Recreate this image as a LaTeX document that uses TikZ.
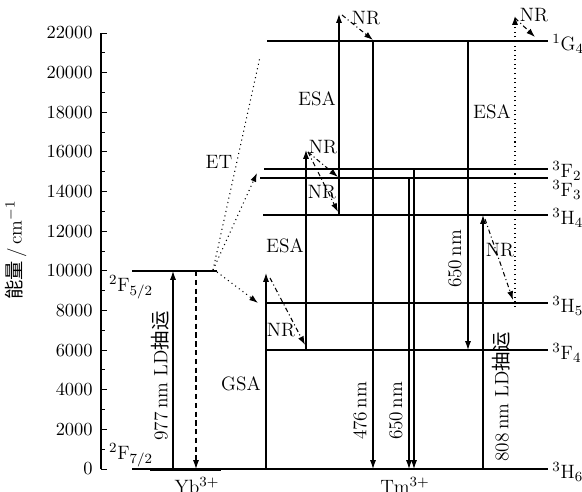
\documentclass[tikz,border=0pt]{standalone}
\usepackage{fontspec}
\newfontfamily\cjk{Noto Sans CJK SC}
\usepackage{tikz}
\usetikzlibrary{arrows.meta,positioning,calc}

\begin{document}
\begin{tikzpicture}[
  x=0.02cm, y=-0.02cm,
  level/.style={line width=0.6pt},
  trans/.style={line width=0.6pt, -{Latex[length=5pt,width=3.4pt]}},
  nr/.style={line width=0.6pt, dash pattern=on 2.6pt off 1.6pt on 0.6pt off 1.6pt,
    -{Latex[length=5pt,width=3.4pt]}},
  et/.style={line width=0.6pt, dotted},
  lbl/.style={font=\fontsize{11}{13}\selectfont, inner sep=0pt},
  term/.style={font=\fontsize{11}{13}\selectfont, inner sep=0pt, anchor=west},
  ticklbl/.style={font=\fontsize{10.5}{12}\selectfont, inner sep=0pt, anchor=east}
]
  \useasboundingbox (0,0) rectangle (582,492);

  % energy axis
  \draw[line width=0.6pt] (101,33) coordinate (ax1) -- (101,469) coordinate (ax0);
  \foreach \k in {0,...,22}
    \draw[line width=0.5pt] (101,{469-19.818*\k}) -- ++(4,0);
  \foreach \k/\e in {0/0,2/2000,4/4000,6/6000,8/8000,10/10000,12/12000,
      14/14000,16/16000,18/18000,20/20000,22/22000} {
    \draw[line width=0.5pt] (101,{469-19.818*\k}) -- ++(6,0);
    \node[ticklbl] at (93,{469-19.818*\k}) {\e};
  }
  \node[lbl, rotate=90] (ylab) at (16,250) {{\cjk 能量}\,/\,cm$^{-1}$};

  % Yb3+ levels
  \draw[level] (132,469) coordinate (base0) -- (548,469) coordinate (base1);
  \draw[line width=1.6pt] (150,470) -- (221,470);
  \draw[level] (132,271) coordinate (F52l) -- (217,271) coordinate (F52r);
  \node[term, anchor=center] (tF52) at (131,287) {$^2\mathrm{F}_{5/2}$};
  \node[term, anchor=center] (tF72) at (131,455) {$^2\mathrm{F}_{7/2}$};

  % Tm3+ levels
  \draw[level] (267,41)  coordinate (G4l) -- (548,41)  coordinate (G4r);
  \draw[level] (264,169) coordinate (F2l) -- (548,169) coordinate (F2r);
  \draw[level] (260,178) coordinate (F3l) -- (548,178) coordinate (F3r);
  \draw[level] (263,215) coordinate (H4l) -- (548,215) coordinate (H4r);
  \draw[level] (265,303) coordinate (H5l) -- (548,303) coordinate (H5r);
  \draw[level] (265,350) coordinate (F4l) -- (548,350) coordinate (F4r);

  \node[term] (tG4) at (552,44)  {$^1\mathrm{G}_4$};
  \node[term] (tF2) at (552,171) {$^3\mathrm{F}_2$};
  \node[term] (tF3) at (552,190) {$^3\mathrm{F}_3$};
  \node[term] (tH4) at (552,218) {$^3\mathrm{H}_4$};
  \node[term] (tH5) at (552,306) {$^3\mathrm{H}_5$};
  \node[term] (tF4) at (552,353) {$^3\mathrm{F}_4$};
  \node[term] (tH6) at (552,472) {$^3\mathrm{H}_6$};

  % Yb3+ pump and decay
  \draw[trans] (173,469) coordinate (yb0) -- (173,271) coordinate (yb1);
  \draw[trans, dashed, dash pattern=on 3pt off 2pt] (196,271) coordinate (ybd1) -- (196,469) coordinate (ybd0);
  \node[lbl, rotate=90] (l977) at (160,376) {977\,nm LD{\cjk 抽运}};

  % energy transfer
  \draw[et, -{Latex[length=5pt,width=3.4pt]}] (213,270) coordinate (et0) -- (257,173) coordinate (et1);
  \draw[et] (et0) -- (260,57) coordinate (et2);
  \draw[et, -{Latex[length=5pt,width=3.4pt]}] (217,272) coordinate (et3) -- (258,303) coordinate (et4);
  \node[lbl] (lET) at (219,162) {ET};
  \draw[et, -{Latex[length=5pt,width=3.4pt]}] (515,307) coordinate (et5) -- (515,16) coordinate (et6);

  % absorption
  \draw[trans] (266,469) coordinate (gsa0) -- (266,273) coordinate (gsa1);
  \node[lbl] (lGSA) at (241,384) {GSA};
  \draw[trans] (306,350) coordinate (esa0) -- (306,150) coordinate (esa1);
  \node[lbl] (lESA1) at (285,246) {ESA};
  \draw[trans] (339,215) coordinate (esb0) -- (339,14) coordinate (esb1);
  \node[lbl] (lESA2) at (317,99) {ESA};
  \node[lbl] (lESA3) at (492,112) {ESA};
  \draw[trans] (483,469) coordinate (ld0) -- (483,215) coordinate (ld1);
  \node[lbl, rotate=90] (l808) at (501,397) {808\,nm LD{\cjk 抽运}};

  % emission
  \draw[trans] (373,41) coordinate (em1) -- (373,469) coordinate (em0);
  \node[lbl, rotate=90] (l476) at (360,411) {476\,nm};
  \draw[trans] (409,178) coordinate (emb1) -- (409,469) coordinate (emb0);
  \draw[trans] (414,169) coordinate (emc1) -- (414,469) coordinate (emc0);
  \node[lbl, rotate=90] (l650a) at (396,411) {650\,nm};
  \draw[trans] (468,41) coordinate (emd1) -- (468,350) coordinate (emd0);
  \node[lbl, rotate=90] (l650b) at (455,259) {650\,nm};

  % non-radiative relaxation
  \draw[nr] (342,15) -- (373,40);
  \node[lbl] (nr1) at (366,18) {NR};
  \draw[nr] (515,18) -- (535,37);
  \node[lbl] (nr2) at (534,15) {NR};
  \draw[nr] (308,152) -- (338,177);
  \node[lbl] (nr3) at (323,147) {NR};
  \draw[nr] (308,152) -- (338,212);
  \node[lbl] (nr4) at (322,192) {NR};
  \draw[nr] (270,278) -- (305,345);
  \node[lbl] (nr5) at (281,330) {NR};
  \draw[nr] (485,219) -- (513,300);
  \node[lbl] (nr6) at (500,250) {NR};

  % ions
  \node[lbl, anchor=north] (ionYb) at (197,477) {Yb$^{3+}$};
  \node[lbl, anchor=north] (ionTm) at (405,477) {Tm$^{3+}$};
\end{tikzpicture}
\end{document}
